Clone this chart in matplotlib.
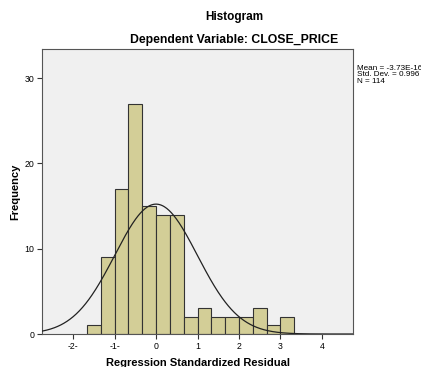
## residual histogram with normal curve
import numpy as np
import matplotlib.pyplot as plt

plt.rcParams['font.family'] = ['Liberation Sans', 'DejaVu Sans']

# bin edges (width 1/3) and counts per bin
bin_edges = [-5/3, -4/3, -1.0, -2/3, -1/3, 0.0, 1/3, 2/3, 1.0, 4/3, 5/3, 2.0, 7/3, 8/3, 3.0, 10/3]
counts = [1, 9, 17, 27, 15, 14, 14, 2, 3, 2, 2, 2, 3, 1, 2]
mean = -3.73e-16
std_dev = 0.996
n_obs = 114
xticks = [-2, -1, 0, 1, 2, 3, 4]
xtick_labels = ['-2-', '-1-', '0', '1', '2', '3', '4']
yticks = [0, 10, 20, 30]

fig = plt.figure(figsize=(4.21, 3.67), dpi=100, facecolor='w')
ax = fig.add_axes([0.0998, 0.0899, 0.7387, 0.7766])
ax.set_facecolor('#f0f0f0')

widths = np.diff(bin_edges)
ax.bar(bin_edges[:-1], counts, width=widths, align='edge',
       color='#d3ce97', edgecolor='#333333', linewidth=0.8, zorder=2)

# normal curve scaled to counts
xs = np.linspace(-2.75, 4.75, 400)
bw = widths[0]
ys = n_obs * bw / (std_dev * np.sqrt(2 * np.pi)) * np.exp(-0.5 * ((xs - mean) / std_dev) ** 2)
ax.plot(xs, ys, color='#222222', linewidth=0.9, zorder=3)

ax.set_xlim(-2.75, 4.75)
ax.set_ylim(0, 33.4)
ax.set_xticks(xticks)
ax.set_xticklabels(xtick_labels)
ax.set_yticks(yticks)
ax.tick_params(axis='both', labelsize=6.3, length=3.5, width=0.8, color='#333333', pad=2)
for s in ax.spines.values():
    s.set_color('#555555')
    s.set_linewidth(0.8)

ax.set_xlabel('Regression Standardized Residual', fontsize=8, fontweight='bold', labelpad=5)
ax.set_ylabel('Frequency', fontsize=8, fontweight='bold', labelpad=3)

fig.text(0.556, 0.953, 'Histogram', ha='center', va='center', fontsize=8.5, fontweight='bold')
fig.text(0.556, 0.890, 'Dependent Variable: CLOSE_PRICE', ha='center', va='center',
         fontsize=8.8, fontweight='bold')

fig.text(0.848, 0.796, f'Mean = -3.73E-16\nStd. Dev. = {std_dev}\nN = {n_obs}',
         ha='left', va='center', fontsize=5.9, linespacing=0.95)

fig.savefig('out.png', dpi=100)
